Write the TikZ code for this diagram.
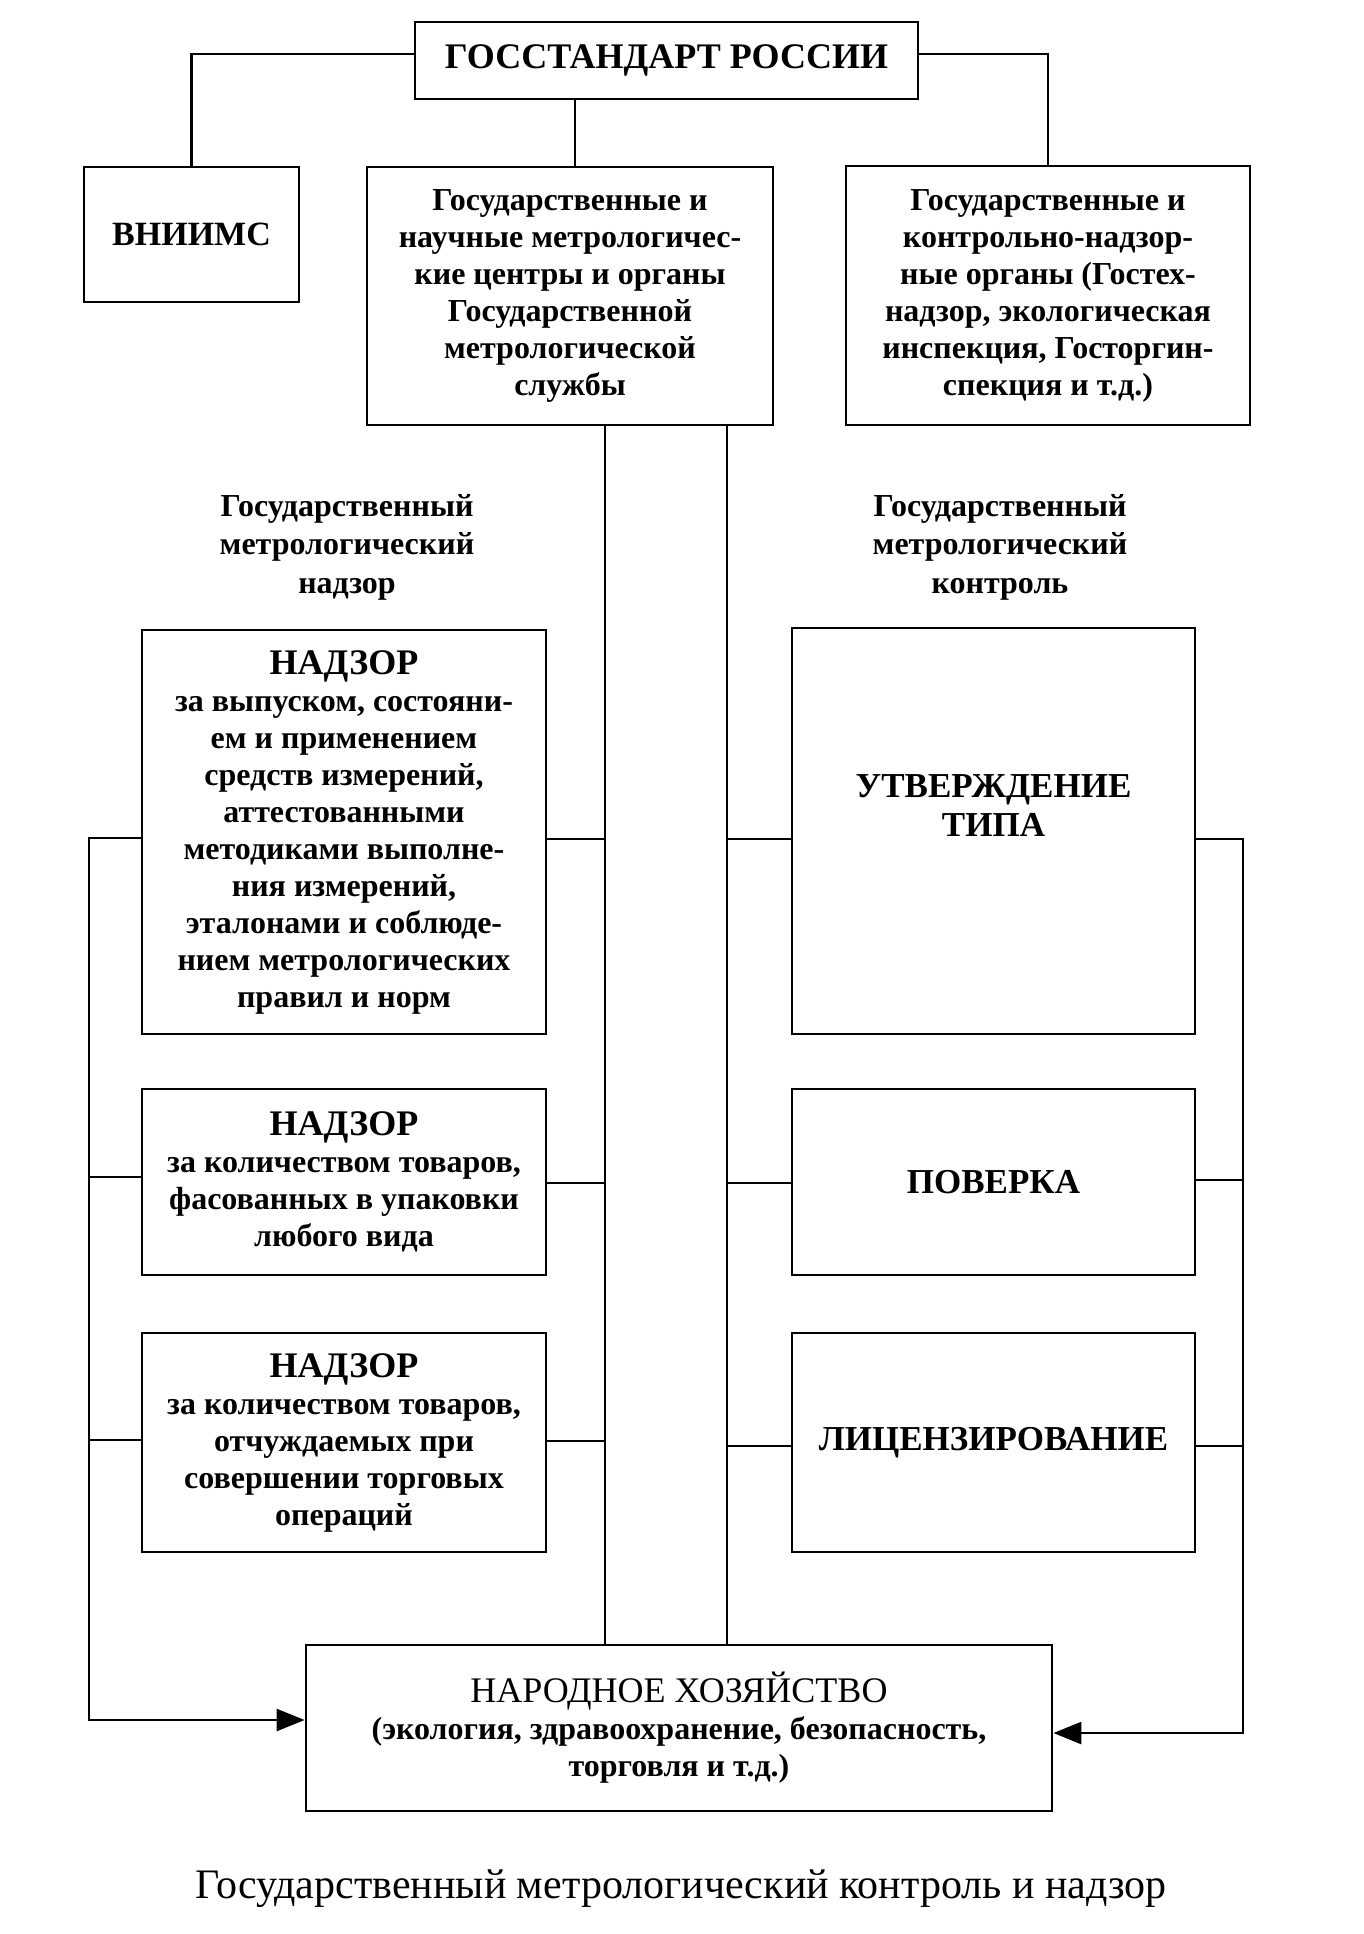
\documentclass[tikz,border=0pt]{standalone}
\usepackage{fontspec}
\setmainfont{Liberation Serif}
\usetikzlibrary{arrows.meta}
\begin{document}
\begin{tikzpicture}[x=0.5pt,y=-0.5pt,
  line width=1.3pt,
  box/.style={draw,line width=1.4pt,inner sep=0pt,align=center,
    font=\fontsize{16}{18.5}\selectfont\bfseries},
  lbl/.style={inner sep=0pt,align=center,font=\fontsize{16}{19.3}\selectfont\bfseries},
  tip/.style={-{Triangle[length=14pt,width=11pt]}}]
\useasboundingbox[fill=white] (0,0) rectangle (1364,1934);
% top
\node[box,minimum width=251.5pt,minimum height=38.5pt,font=\fontsize{18}{20}\selectfont\bfseries] (top) at (666.5,60.5) {ГОССТАНДАРТ РОССИИ};
\node[box,minimum width=107.5pt,minimum height=67.5pt,font=\fontsize{17}{20}\selectfont\bfseries] (vni) at (191.5,234.5) {ВНИИМС};
\node[box,minimum width=203pt,minimum height=129pt] (mid) at (570,296) {Государственные и\\научные метрологичес-\\кие центры и органы\\Государственной\\метрологической\\службы};
\node[box,minimum width=202pt,minimum height=129.5pt] (rgt) at (1048,295.5) {Государственные и\\контрольно-надзор-\\ные органы (Гостех-\\надзор, экологическая\\инспекция, Госторгин-\\спекция и т.д.)};
% labels
\node[lbl] (lnad) at (347,547) {Государственный\\метрологический\\надзор};
\node[lbl] (lkon) at (1000,547) {Государственный\\метрологический\\контроль};
% left column
\node[box,minimum width=202pt,minimum height=202pt] (b1) at (344,832) {{\fontsize{18}{20}\selectfont НАДЗОР}\\за выпуском, состояни-\\ем и применением\\средств измерений,\\аттестованными\\методиками выполне-\\ния измерений,\\эталонами и соблюде-\\нием метрологических\\правил и норм};
\node[box,minimum width=202pt,minimum height=93pt] (b2) at (344,1182) {{\fontsize{18}{20}\selectfont НАДЗОР}\\за количеством товаров,\\фасованных в упаковки\\любого вида};
\node[box,minimum width=202pt,minimum height=109.5pt] (b3) at (344,1442.5) {{\fontsize{18}{20}\selectfont НАДЗОР}\\за количеством товаров,\\отчуждаемых при\\совершении торговых\\операций};
% right column
\node[box,minimum width=201.5pt,minimum height=203pt,font=\fontsize{17.5}{19.5}\selectfont\bfseries] (utv) at (993.5,831) {УТВЕРЖДЕНИЕ\\ТИПА\\[6pt]};
\node[box,minimum width=201.5pt,minimum height=93pt,font=\fontsize{17.5}{20}\selectfont\bfseries] (pov) at (993.5,1182) {ПОВЕРКА};
\node[box,minimum width=201.5pt,minimum height=109.5pt,font=\fontsize{17.5}{20}\selectfont\bfseries] (lic) at (993.5,1442.5) {ЛИЦЕНЗИРОВАНИЕ};
% bottom
\node[box,minimum width=373pt,minimum height=83pt] (nar) at (679,1728) {{\mdseries\fontsize{18}{20}\selectfont НАРОДНОЕ ХОЗЯЙСТВО}\\(экология, здравоохранение, безопасность,\\торговля и т.д.)};
\node[inner sep=0pt,font=\fontsize{21}{24}\selectfont] (cap) at (681,1889) {Государственный метрологический контроль и надзор};
% coordinates
\coordinate (vl) at (605,425);
\coordinate (vr) at (727,425);
\coordinate (LT) at (89,838);
\coordinate (LB) at (89,1720);
\coordinate (RT) at (1243,839);
\coordinate (RB) at (1243,1733);
% top connectors
\draw (top.west |- 0,54) -| (vni.north);
\draw (top.east |- 0,54) -| (rgt.north);
\draw (top.south -| 575,0) -- (mid.north -| 575,0);
% verticals
\draw (mid.south -| vl) -- (nar.north -| vl);
\draw (mid.south -| vr) -- (nar.north -| vr);
% left outer
\draw[tip] (b1.west |- LT) -- (LT) -- (LB) -- (nar.west |- LB);
\draw (b2.west |- 0,1177) -- (LT |- 0,1177);
\draw (b3.west |- 0,1440) -- (LT |- 0,1440);
\draw (b1.east |- 0,839) -- (vl |- 0,839);
\draw (b2.east |- 0,1183) -- (vl |- 0,1183);
\draw (b3.east |- 0,1441) -- (vl |- 0,1441);
% right outer
\draw[tip] (utv.east |- RT) -- (RT) -- (RB) -- (nar.east |- RB);
\draw (pov.east |- 0,1180) -- (RT |- 0,1180);
\draw (lic.east |- 0,1446) -- (RT |- 0,1446);
\draw (utv.west |- 0,839) -- (vr |- 0,839);
\draw (pov.west |- 0,1183) -- (vr |- 0,1183);
\draw (lic.west |- 0,1446) -- (vr |- 0,1446);
\end{tikzpicture}
\end{document}
